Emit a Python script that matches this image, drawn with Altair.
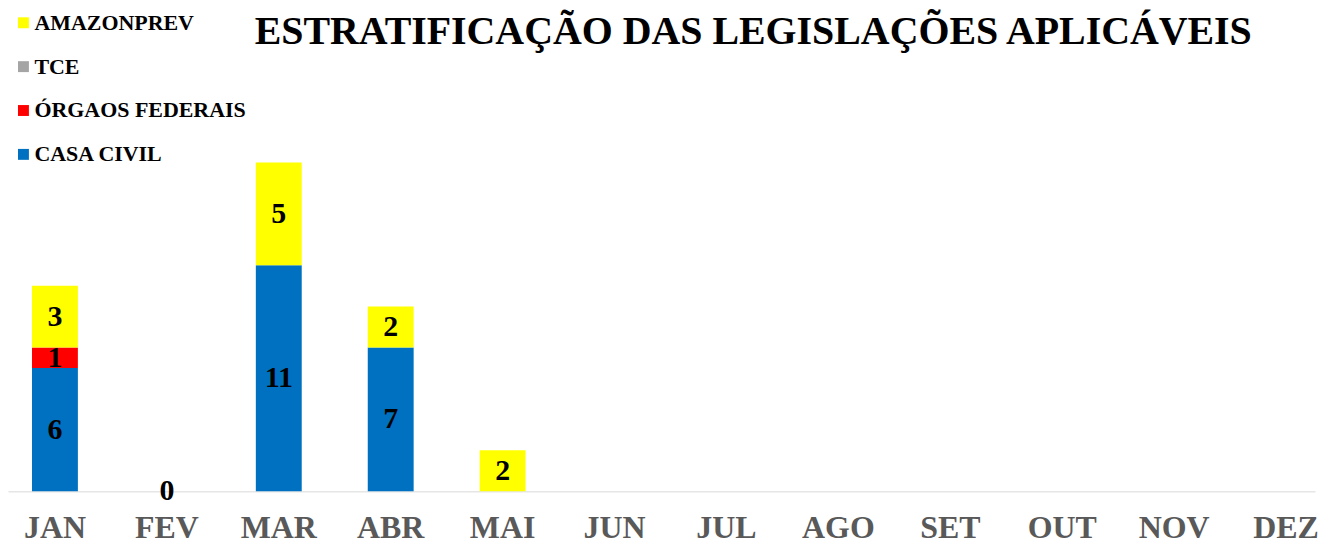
import altair as alt
import pandas as pd

months = ["JAN", "FEV", "MAR", "ABR", "MAI", "JUN", "JUL", "AGO", "SET", "OUT", "NOV", "DEZ"]
series_legend = ["AMAZONPREV", "TCE", "ÓRGAOS FEDERAIS", "CASA CIVIL"]
series_colors = ["#FFFF00", "#A5A5A5", "#FF0000", "#0070C0"]
stack_order = ["CASA CIVIL", "ÓRGAOS FEDERAIS", "TCE", "AMAZONPREV"]

casa_civil = [6, 0, 11, 7, None, None, None, None, None, None, None, None]
orgaos_federais = [1, None, None, None, None, None, None, None, None, None, None, None]
tce = [None] * 12
amazonprev = [3, None, 5, 2, 2, None, None, None, None, None, None, None]

series_values = {
    "CASA CIVIL": casa_civil,
    "ÓRGAOS FEDERAIS": orgaos_federais,
    "TCE": tce,
    "AMAZONPREV": amazonprev,
}

rows = []
for s in stack_order:
    for m, v in zip(months, series_values[s]):
        if v is not None:
            rows.append({"mes": m, "serie": s, "valor": v, "ord": stack_order.index(s)})
df = pd.DataFrame(rows)

FONT = "Liberation Serif"

x_scale = alt.Scale(domain=months, paddingInner=0.59, paddingOuter=0.134, align=0.8)

x_enc = alt.X(
    "mes:N",
    sort=months,
    scale=x_scale,
    axis=alt.Axis(
        title=None,
        labelFont=FONT,
        labelFontSize=32,
        labelFontWeight="bold",
        labelColor="#595959",
        labelPadding=21,
        labelAngle=0,
        ticks=False,
        domainColor="#D9D9D9",
        domainWidth=1,
        grid=False,
    ),
)

y_scale = alt.Scale(domain=[0, 18], nice=False)

bars = alt.Chart(df).mark_bar(strokeWidth=0).encode(
    x=x_enc,
    y=alt.Y("sum(valor):Q", stack="zero", scale=y_scale, axis=None),
    color=alt.Color(
        "serie:N",
        scale=alt.Scale(domain=series_legend, range=series_colors),
        legend=alt.Legend(
            title=None,
            orient="none",
            legendX=4.5,
            legendY=-110,
            direction="vertical",
            symbolType="square",
            symbolSize=120,
            symbolStrokeWidth=0,
            labelFont=FONT,
            labelFontSize=22,
            labelFontWeight="bold",
            labelColor="#000000",
            labelOffset=0,
            rowPadding=22,
            padding=0,
            labelLimit=400,
        ),
    ),
    order=alt.Order("ord:Q", sort="ascending"),
)

labels = (
    alt.Chart(df)
    .transform_stack(stack="valor", groupby=["mes"], as_=["v0", "v1"], sort=[alt.SortField("ord", order="ascending")])
    .transform_calculate(mid="(datum.v0 + datum.v1) / 2")
    .mark_text(font=FONT, fontSize=30, fontWeight="bold", color="#000000", baseline="middle", align="center")
    .encode(
        x=alt.X("mes:N", sort=months, scale=x_scale),
        y=alt.Y("mid:Q", scale=y_scale),
        text=alt.Text("valor:Q"),
    )
)

chart = (
    alt.layer(bars, labels)
    .properties(
        width=1311,
        height=371,
        background="#FFFFFF",
        padding={"left": 0, "top": 3, "right": 0, "bottom": 0},
        title=alt.TitleParams(
            text="ESTRATIFICAÇÃO DAS LEGISLAÇÕES APLICÁVEIS",
            font=FONT,
            fontSize=40,
            fontWeight="bold",
            color="#000000",
            anchor="middle",
            dx=92,
            offset=-40,
        ),
    )
    .configure_view(stroke="transparent", strokeWidth=0)
)

chart.save("out.html", embed_options={"renderer": "svg", "actions": False})
